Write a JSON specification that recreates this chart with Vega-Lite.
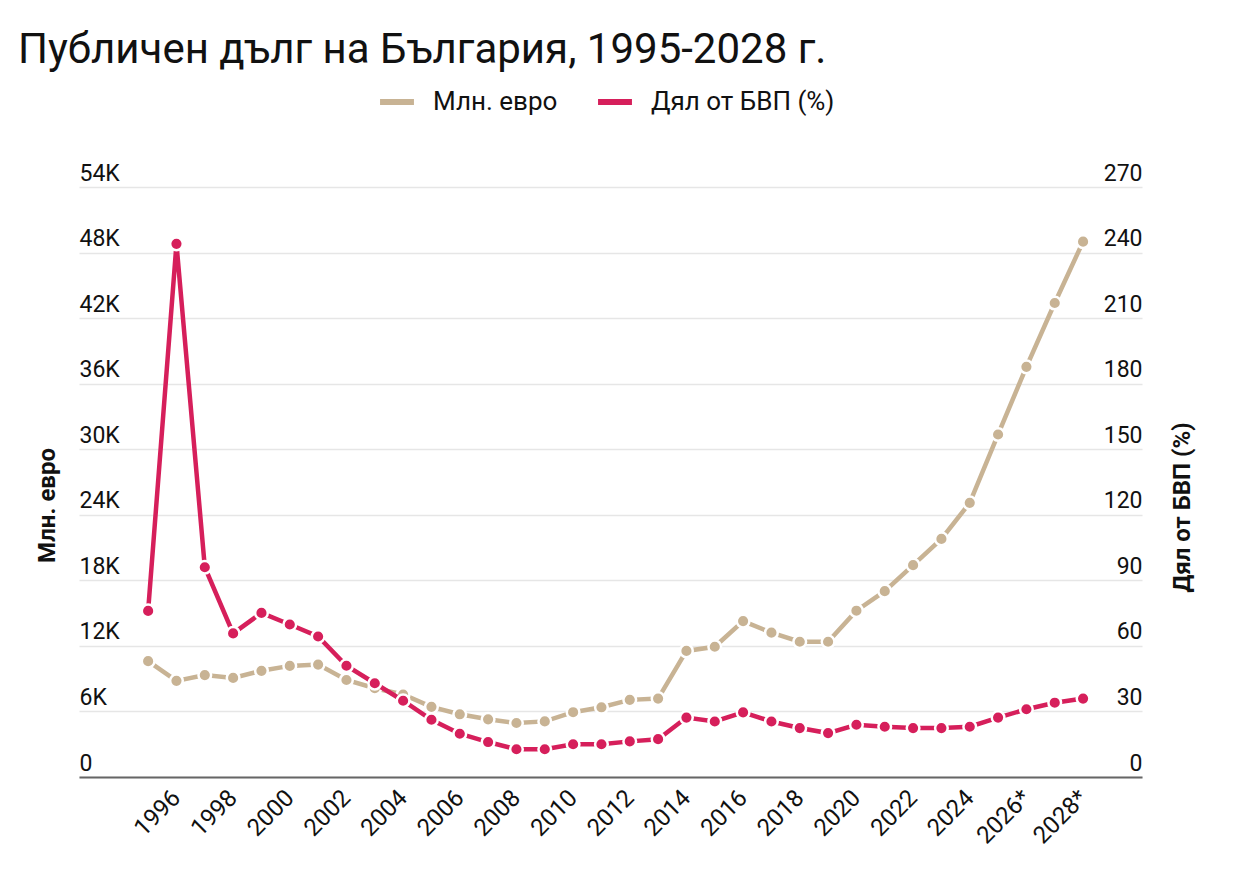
{
  "$schema": "https://vega.github.io/schema/vega-lite/v6.json",
  "width": 1063,
  "height": 590,
  "autosize": {"type": "none"},
  "padding": {"left": 79, "top": 187, "right": 102, "bottom": 101},
  "background": "white",
  "title": {
    "text": "Публичен дълг на България, 1995-2028 г.",
    "anchor": "start",
    "frame": "group",
    "font": "Roboto",
    "fontSize": 42,
    "fontWeight": "normal",
    "color": "#111111",
    "dx": -61,
    "dy": -6
  },
  "data": {
    "values": [
      {"year": 1995, "eur": 10600, "pct": 76.0},
      {"year": 1996, "eur": 8800, "pct": 244.0},
      {"year": 1997, "eur": 9330, "pct": 96.0},
      {"year": 1998, "eur": 9070, "pct": 65.7},
      {"year": 1999, "eur": 9720, "pct": 75.1},
      {"year": 2000, "eur": 10170, "pct": 69.8},
      {"year": 2001, "eur": 10290, "pct": 64.3},
      {"year": 2002, "eur": 8880, "pct": 50.9},
      {"year": 2003, "eur": 8120, "pct": 42.9},
      {"year": 2004, "eur": 7550, "pct": 34.9},
      {"year": 2005, "eur": 6420, "pct": 26.2},
      {"year": 2006, "eur": 5740, "pct": 19.8},
      {"year": 2007, "eur": 5280, "pct": 16.0},
      {"year": 2008, "eur": 4940, "pct": 12.7},
      {"year": 2009, "eur": 5090, "pct": 12.7},
      {"year": 2010, "eur": 5930, "pct": 15.0},
      {"year": 2011, "eur": 6380, "pct": 15.0},
      {"year": 2012, "eur": 7060, "pct": 16.3},
      {"year": 2013, "eur": 7180, "pct": 17.3},
      {"year": 2014, "eur": 11540, "pct": 27.2},
      {"year": 2015, "eur": 11920, "pct": 25.4},
      {"year": 2016, "eur": 14270, "pct": 29.6},
      {"year": 2017, "eur": 13210, "pct": 25.4},
      {"year": 2018, "eur": 12380, "pct": 22.4},
      {"year": 2019, "eur": 12380, "pct": 20.1},
      {"year": 2020, "eur": 15220, "pct": 23.9},
      {"year": 2021, "eur": 17010, "pct": 23.0},
      {"year": 2022, "eur": 19390, "pct": 22.4},
      {"year": 2023, "eur": 21790, "pct": 22.4},
      {"year": 2024, "eur": 25090, "pct": 23.0},
      {"year": 2025, "eur": 31350, "pct": 27.2},
      {"year": 2026, "eur": 37540, "pct": 31.0},
      {"year": 2027, "eur": 43380, "pct": 34.0},
      {"year": 2028, "eur": 49000, "pct": 35.9}
    ]
  },
  "encoding": {
    "x": {
      "field": "year",
      "type": "quantitative",
      "scale": {"domain": [1992.56, 2030.08], "nice": false, "zero": false},
      "axis": {
        "values": [1996, 1998, 2000, 2002, 2004, 2006, 2008, 2010, 2012, 2014, 2016, 2018, 2020, 2022, 2024, 2026, 2028],
        "labelExpr": "datum.value >= 2026 ? datum.value + '*' : '' + datum.value",
        "labelOverlap": false,
        "labelAngle": -45,
        "labelAlign": "right",
        "labelBaseline": "middle",
        "labelFont": "Roboto",
        "labelFontSize": 24,
        "labelColor": "#111111",
        "labelPadding": 17,
        "labelFlush": false,
        "grid": false,
        "ticks": false,
        "domainColor": "#666666",
        "domainWidth": 2,
        "title": null
      }
    }
  },
  "layer": [
    {
      "mark": {
        "type": "line",
        "strokeWidth": 4.5,
        "point": {"filled": true, "size": 160, "stroke": "white", "strokeWidth": 2.5, "opacity": 1}
      },
      "encoding": {
        "y": {
          "field": "eur",
          "type": "quantitative",
          "scale": {"domain": [0, 54000], "nice": false},
          "axis": {
            "values": [0, 6000, 12000, 18000, 24000, 30000, 36000, 42000, 48000, 54000],
            "labelExpr": "datum.value == 0 ? '0' : (datum.value / 1000) + 'K'",
            "labelAlign": "left",
            "labelBaseline": "alphabetic",
            "labelOffset": -7,
            "labelPadding": 0,
            "labelFont": "Roboto",
            "labelFontSize": 23,
            "labelColor": "#111111",
            "labelFlush": false,
            "ticks": false,
            "domain": false,
            "grid": true,
            "gridColor": "#e6e6e6",
            "gridWidth": 1.5,
            "title": "Млн. евро",
            "titleFont": "Roboto",
            "titleFontSize": 24,
            "titleFontWeight": "bold",
            "titleColor": "#111111",
            "titleAngle": -90,
            "titleAlign": "center",
            "titleBaseline": "middle",
            "titleX": -32,
            "titleY": 318
          }
        },
        "color": {
          "datum": "Млн. евро",
          "type": "nominal",
          "scale": {"domain": ["Млн. евро", "Дял от БВП (%)"], "range": ["#C8B394", "#D61F5B"]},
          "legend": {
            "orient": "none",
            "legendX": 298,
            "legendY": -105,
            "direction": "horizontal",
            "title": null,
            "symbolType": "stroke",
            "symbolStrokeWidth": 6,
            "symbolSize": 1150,
            "labelFont": "Roboto",
            "labelFontSize": 26,
            "labelColor": "#111111",
            "labelOffset": 16,
            "labelLimit": 400,
            "columnPadding": 28
          }
        }
      }
    },
    {
      "mark": {
        "type": "line",
        "strokeWidth": 4.5,
        "point": {"filled": true, "size": 160, "stroke": "white", "strokeWidth": 2.5, "opacity": 1}
      },
      "encoding": {
        "y": {
          "field": "pct",
          "type": "quantitative",
          "scale": {"domain": [0, 270], "nice": false},
          "axis": {
            "orient": "right",
            "values": [0, 30, 60, 90, 120, 150, 180, 210, 240, 270],
            "labelAlign": "right",
            "labelBaseline": "alphabetic",
            "labelOffset": -7,
            "labelPadding": 0,
            "labelFont": "Roboto",
            "labelFontSize": 23,
            "labelColor": "#111111",
            "labelFlush": false,
            "ticks": false,
            "domain": false,
            "grid": false,
            "title": "Дял от БВП (%)",
            "titleFont": "Roboto",
            "titleFontSize": 24,
            "titleFontWeight": "bold",
            "titleColor": "#111111",
            "titleAngle": -90,
            "titleAlign": "center",
            "titleBaseline": "middle",
            "titleX": 40,
            "titleY": 320
          }
        },
        "color": {"datum": "Дял от БВП (%)", "type": "nominal"}
      }
    }
  ],
  "resolve": {"scale": {"y": "independent"}},
  "config": {"view": {"stroke": null}, "font": "Roboto"}
}
